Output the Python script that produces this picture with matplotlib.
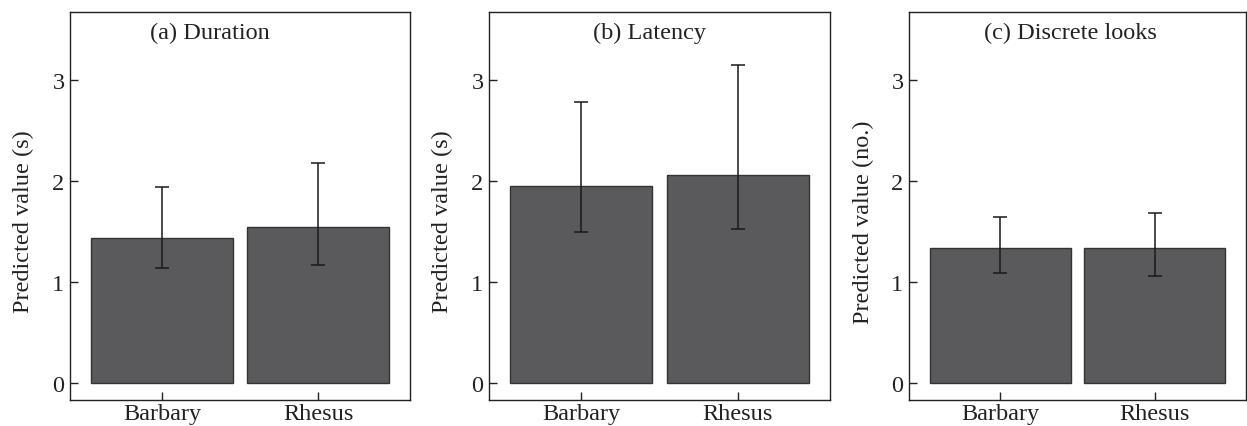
import matplotlib
matplotlib.use('Agg')
import matplotlib.pyplot as plt
import numpy as np

species = ['Barbary', 'Rhesus']
titles = ['(a) Duration', '(b) Latency', '(c) Discrete looks']
ylabels = ['Predicted value (s)', 'Predicted value (s)', 'Predicted value (no.)']

duration = [1.44, 1.54]
duration_lo = [1.14, 1.17]
duration_hi = [1.94, 2.18]

latency = [1.95, 2.06]
latency_lo = [1.50, 1.53]
latency_hi = [2.78, 3.15]

looks = [1.34, 1.335]
looks_lo = [1.09, 1.06]
looks_hi = [1.645, 1.68]

plt.rcParams['font.family'] = ['Liberation Serif', 'DejaVu Serif']
plt.rcParams['font.size'] = 17.5

fig = plt.figure(figsize=(12.47, 4.27), dpi=100)
lefts = [70 / 1247, 489 / 1247, 909 / 1247]
widths = [340 / 1247, 341 / 1247, 337 / 1247]
title_x = [0.41, 0.47, 0.48]

panels = [(duration, duration_lo, duration_hi),
          (latency, latency_lo, latency_hi),
          (looks, looks_lo, looks_hi)]

x = np.arange(len(species))
for i, (vals, lo, hi) in enumerate(panels):
    ax = fig.add_axes([lefts[i], 0.0609, widths[i], 0.9087])
    vals = np.array(vals)
    yerr = [vals - np.array(lo), np.array(hi) - vals]
    ax.bar(x, vals, width=0.91, color='#5a5a5c', edgecolor='#333333', linewidth=1)
    ax.errorbar(x, vals, yerr=yerr, fmt='none', ecolor='#1a1a1a',
                elinewidth=1.1, capsize=4.7, capthick=1.1)
    ax.set_xlim(-0.59, 1.59)
    ax.set_ylim(-0.165, 3.67)
    ax.set_yticks([0, 1, 2, 3])
    ax.set_xticks(x)
    ax.set_xticklabels(species)
    ax.tick_params(direction='in', length=6, width=1, colors='#222222',
                   labelcolor='#222222', pad=4)
    ax.tick_params(axis='x', pad=2)
    ax.set_ylabel(ylabels[i], color='#222222')
    ax.yaxis.set_label_coords(-0.105, 0.461)
    ax.text(title_x[i], 0.948, titles[i], transform=ax.transAxes,
            ha='center', va='center', color='#222222')
    for s in ax.spines.values():
        s.set_linewidth(1)
        s.set_color('#222222')

plt.savefig('out.png', dpi=100)
